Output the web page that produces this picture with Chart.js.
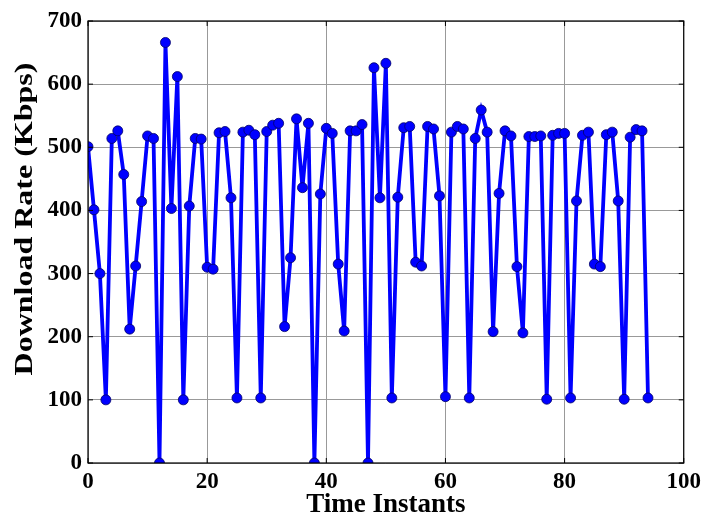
<!DOCTYPE html>
<html><head><meta charset="utf-8">
<script src="https://cdn.jsdelivr.net/npm/chart.js@4/dist/chart.umd.min.js"></script>
<style>html,body{margin:0;padding:0;background:#fff}</style>
</head><body>
<canvas id="c" width="706" height="521"></canvas>
<script>
const timeInstants = [0,1,2,3,4,5,6,7,8,9,10,11,12,13,14,15,16,17,18,19,20,21,22,23,24,25,26,27,28,29,30,31,32,33,34,35,36,37,38,39,40,41,42,43,44,45,46,47,48,49,50,51,52,53,54,55,56,57,58,59,60,61,62,63,64,65,66,67,68,69,70,71,72,73,74,75,76,77,78,79,80,81,82,83,84,85,86,87,88,89,90,91,92,93,94];
const downloadRate = [501,401,300,100,514,526,457,212,312,414,518,514,0,666,403,612,100,407,514,513,310,307,523,525,420,103,524,527,520,103,525,535,538,216,325,545,436,538,0,426,530,522,315,209,526,526,536,0,626,420,633,103,421,531,533,318,312,533,529,423,105,524,533,529,103,514,559,524,208,427,526,518,311,206,517,517,518,101,519,522,522,103,415,519,524,315,311,520,524,415,101,516,528,526,103];
const xTicks = [0,20,40,60,80,100];
const yTicks = [0,100,200,300,400,500,600,700];
const xTitle = 'Time Instants';
const yTitle = 'Download Rate (Kbps)';

const FONT = "'Liberation Serif','Times New Roman',serif";

const framePlugin = {
  id: 'frame',
  afterDraw(chart) {
    const {ctx, chartArea: a, scales} = chart;
    ctx.save();
    ctx.strokeStyle = '#000';
    ctx.lineWidth = 1.2;
    ctx.strokeRect(a.left, a.top, a.right - a.left, a.bottom - a.top);
    ctx.lineWidth = 1;
    xTicks.forEach(v => {
      const x = scales.x.getPixelForValue(v);
      ctx.beginPath(); ctx.moveTo(x, a.bottom); ctx.lineTo(x, a.bottom - 5); ctx.stroke();
      ctx.beginPath(); ctx.moveTo(x, a.top); ctx.lineTo(x, a.top + 5); ctx.stroke();
    });
    yTicks.forEach(v => {
      const y = scales.y.getPixelForValue(v);
      ctx.beginPath(); ctx.moveTo(a.left, y); ctx.lineTo(a.left + 5, y); ctx.stroke();
      ctx.beginPath(); ctx.moveTo(a.right, y); ctx.lineTo(a.right - 5, y); ctx.stroke();
    });
    ctx.translate(26, 219);
    ctx.rotate(-Math.PI / 2);
    ctx.scale(1.28, 1);
    ctx.fillStyle = '#000';
    ctx.font = 'bold 25px ' + FONT;
    ctx.textAlign = 'center';
    ctx.textBaseline = 'middle';
    ctx.fillText(yTitle, 0, 0);
    ctx.restore();
  }
};

new Chart(document.getElementById('c'), {
  type: 'line',
  data: {
    datasets: [{
      data: timeInstants.map((t, i) => ({x: t, y: downloadRate[i]})),
      borderColor: '#0000ff',
      backgroundColor: '#0000ff',
      borderWidth: 3.8,
      pointRadius: 5,
      pointBorderColor: '#000066',
      pointBorderWidth: 0.8,
      pointBackgroundColor: '#0000ff',
      tension: 0,
      clip: 0
    }]
  },
  options: {
    responsive: false,
    animation: false,
    layout: {padding: {top: 21, right: 20, left: 0, bottom: 0}},
    plugins: {legend: {display: false}, tooltip: {enabled: false}},
    scales: {
      x: {
        type: 'linear', min: 0, max: 100,
        afterBuildTicks(s) { s.ticks = xTicks.map(v => ({value: v})); },
        afterFit(s) { s.height = 58; },
        grid: {color: '#999', borderDash: [1, 3], lineWidth: 1, drawTicks: false},
        border: {display: false},
        ticks: {color: '#000', padding: 5, maxRotation: 0, font: {family: FONT, size: 23, weight: 'bold'}},
        title: {display: true, text: xTitle, color: '#000', padding: {top: 0, bottom: 0}, font: {family: FONT, size: 27, weight: 'bold'}}
      },
      y: {
        min: 0, max: 700,
        afterBuildTicks(s) { s.ticks = yTicks.map(v => ({value: v})); },
        afterFit(s) { s.width = 88; },
        grid: {color: '#999', borderDash: [1, 3], lineWidth: 1, drawTicks: false},
        border: {display: false},
        ticks: {color: '#000', padding: 6, font: {family: FONT, size: 23, weight: 'bold'}}
      }
    }
  },
  plugins: [framePlugin]
});
</script>
</body></html>
